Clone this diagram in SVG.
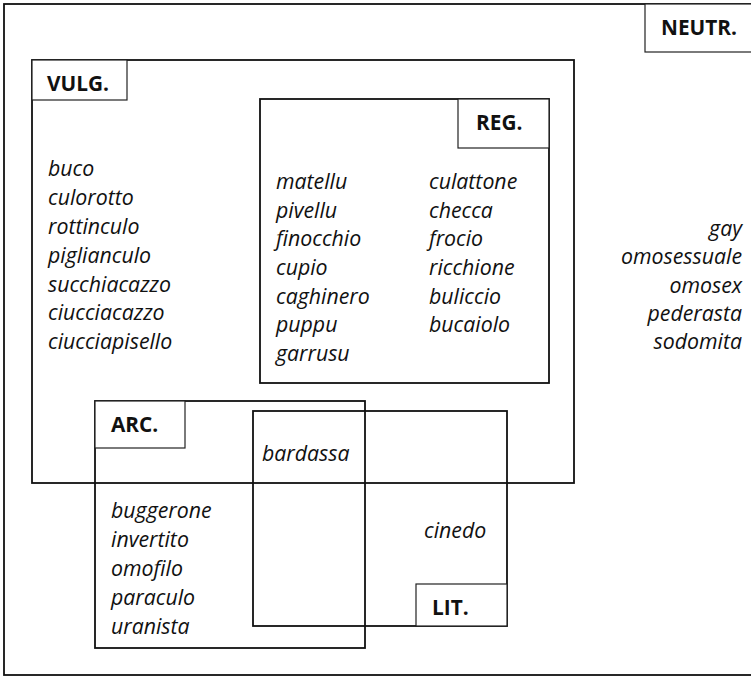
<svg xmlns="http://www.w3.org/2000/svg" width="751" height="677" viewBox="0 0 751 677">
<style>
.box{fill:none;stroke:#111;stroke-width:1.8}
.lbl{fill:#fff;stroke:#222;stroke-width:1.2}
.t{font-family:"Open Sans",sans-serif;font-style:italic;font-size:21.3px;fill:#111}
.b{font-family:"Open Sans",sans-serif;font-weight:bold;font-size:20.8px;fill:#111}
.r{text-anchor:end}
</style>
<rect x="0" y="0" width="751" height="677" fill="#fff"/>
<g id="neutr">
<rect class="box" x="4" y="4" width="752" height="671"/>
<rect class="lbl" x="645" y="4" width="110" height="48"/>
<text class="b" x="661" y="35">NEUTR.</text>
<text class="t r" x="742" y="236">gay</text>
<text class="t r" x="742" y="264">omosessuale</text>
<text class="t r" x="742" y="293">omosex</text>
<text class="t r" x="742" y="321">pederasta</text>
<text class="t r" x="742" y="349">sodomita</text>
</g>
<g id="vulg">
<rect class="box" x="32" y="60" width="542" height="423"/>
<rect class="lbl" x="32" y="60" width="95" height="40"/>
<text class="b" x="47" y="91">VULG.</text>
<text class="t" x="48" y="176">buco</text>
<text class="t" x="48" y="205">culorotto</text>
<text class="t" x="48" y="234">rottinculo</text>
<text class="t" x="48" y="263">piglianculo</text>
<text class="t" x="48" y="292">succhiacazzo</text>
<text class="t" x="48" y="320">ciucciacazzo</text>
<text class="t" x="48" y="349">ciucciapisello</text>
</g>
<g id="reg">
<rect class="box" x="260" y="99" width="289" height="284"/>
<rect class="lbl" x="458" y="99" width="91" height="49"/>
<text class="b" x="476" y="130">REG.</text>
<text class="t" x="276" y="189">matellu</text>
<text class="t" x="276" y="218">pivellu</text>
<text class="t" x="276" y="246">finocchio</text>
<text class="t" x="276" y="275">cupio</text>
<text class="t" x="276" y="304">caghinero</text>
<text class="t" x="276" y="332">puppu</text>
<text class="t" x="276" y="361">garrusu</text>
<text class="t" x="429" y="189">culattone</text>
<text class="t" x="429" y="218">checca</text>
<text class="t" x="429" y="246">frocio</text>
<text class="t" x="429" y="275">ricchione</text>
<text class="t" x="429" y="304">buliccio</text>
<text class="t" x="429" y="332">bucaiolo</text>
</g>
<g id="arc">
<rect class="box" x="95" y="401" width="270" height="247"/>
<rect class="lbl" x="95" y="401" width="90" height="47"/>
<text class="b" x="111" y="432">ARC.</text>
<text class="t" x="111" y="518">buggerone</text>
<text class="t" x="111" y="547">invertito</text>
<text class="t" x="111" y="576">omofilo</text>
<text class="t" x="111" y="605">paraculo</text>
<text class="t" x="111" y="634">uranista</text>
</g>
<g id="lit">
<rect class="box" x="253" y="411" width="254" height="215"/>
<rect class="lbl" x="416" y="584" width="91" height="42"/>
<text class="b" x="432" y="615">LIT.</text>
<text class="t" x="424" y="538">cinedo</text>
</g>
<g id="shared">
<text class="t" x="262" y="461">bardassa</text>
</g>
<g id="connectors"></g>
</svg>
